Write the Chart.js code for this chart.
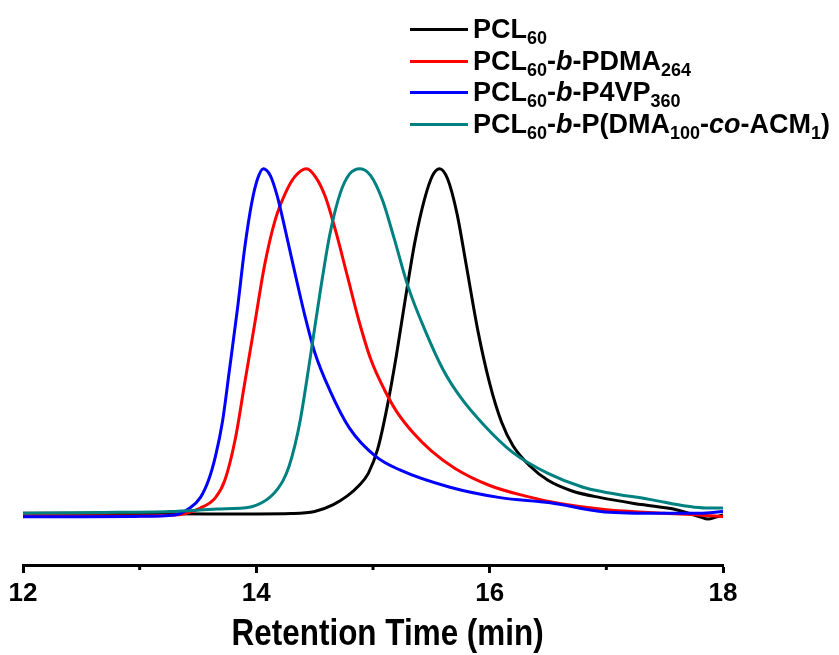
<!DOCTYPE html>
<html>
<head>
<meta charset="utf-8">
<script src="https://cdn.jsdelivr.net/npm/chart.js@4.4.0/dist/chart.umd.min.js"></script>
<style>
  html, body { margin: 0; padding: 0; background: #fff; }
  #wrap { position: relative; width: 839px; height: 655px; overflow: hidden; }
  #gpc { position: absolute; left: 0; top: 0; }
  #legend { position: absolute; left: 410px; top: 14px; font-family: "Liberation Sans", Arial, sans-serif; font-weight: bold; font-size: 27px; color: #000; }
  .row { display: flex; align-items: center; height: 31.5px; white-space: nowrap; }
  .swatch { width: 58px; height: 3px; margin-right: 5px; }
  .row sub { font-size: 18px; vertical-align: -6px; line-height: 0; }
  #xtitle { position: absolute; left: 0; top: 614px; width: 776px; text-align: center; line-height: 37px; }
  #xtitle span { display: inline-block; transform: scaleX(0.85); font-family: "Liberation Sans", Arial, sans-serif; font-weight: bold; font-size: 37px; color: #000; white-space: nowrap; }
</style>
</head>
<body>
<div id="wrap">
  <canvas id="gpc" width="839" height="655"></canvas>
  <div id="legend"></div>
  <div id="xtitle"><span>Retention Time (min)</span></div>
</div>
<script>
// GPC traces: retention time (min) and normalised detector signal
const timePCL = [12.0, 13.0, 13.6, 14.0, 14.3, 14.5, 14.66, 14.78, 14.88, 14.96, 15.04, 15.12, 15.2, 15.28, 15.36, 15.44, 15.51, 15.57, 15.64, 15.72, 15.80, 15.90, 16.0, 16.1, 16.2, 16.35, 16.5, 16.7, 16.95, 17.3, 17.6, 17.8, 17.87, 17.95, 18.0];
const signalPCL = [0.005, 0.004, 0.003, 0.003, 0.004, 0.01, 0.03, 0.055, 0.085, 0.12, 0.19, 0.31, 0.46, 0.63, 0.79, 0.91, 0.98, 1.0, 0.97, 0.87, 0.72, 0.53, 0.38, 0.27, 0.20, 0.14, 0.10, 0.07, 0.05, 0.03, 0.015, -0.005, -0.012, -0.005, 0.0];

const timePDMA = [12.0, 12.66, 13.3, 13.52, 13.65, 13.73, 13.82, 13.90, 13.99, 14.07, 14.16, 14.25, 14.33, 14.43, 14.51, 14.59, 14.68, 14.78, 14.88, 14.98, 15.1, 15.2, 15.35, 15.5, 15.7, 16.0, 16.3, 16.6, 17.0, 17.5, 17.8, 18.0];
const signalPDMA = [0.0, -0.003, 0.0, 0.02, 0.05, 0.10, 0.22, 0.38, 0.56, 0.72, 0.85, 0.93, 0.977, 1.0, 0.975, 0.92, 0.82, 0.69, 0.56, 0.45, 0.36, 0.30, 0.235, 0.185, 0.135, 0.085, 0.055, 0.033, 0.015, 0.005, 0.0, -0.005];

const timeP4VP = [12.0, 12.5, 13.0, 13.3, 13.43, 13.52, 13.59, 13.65, 13.71, 13.77, 13.84, 13.90, 13.96, 14.01, 14.06, 14.12, 14.18, 14.25, 14.33, 14.42, 14.50, 14.63, 14.80, 15.02, 15.23, 15.66, 16.09, 16.52, 16.95, 17.37, 17.80, 18.0];
const signalP4VP = [-0.005, -0.005, -0.004, 0.0, 0.02, 0.05, 0.10, 0.17, 0.27, 0.42, 0.60, 0.77, 0.90, 0.97, 1.0, 0.98, 0.92, 0.82, 0.70, 0.57, 0.47, 0.36, 0.25, 0.17, 0.13, 0.08, 0.05, 0.035, 0.01, 0.005, 0.005, 0.01];

const timeCopolymer = [12.0, 12.66, 13.26, 13.66, 13.95, 14.05, 14.12, 14.18, 14.23, 14.28, 14.33, 14.38, 14.46, 14.55, 14.63, 14.72, 14.80, 14.89, 14.98, 15.08, 15.18, 15.30, 15.45, 15.60, 15.75, 15.95, 16.2, 16.5, 16.8, 17.0, 17.37, 17.7, 17.85, 18.0];
const signalCopolymer = [0.005, 0.007, 0.01, 0.017, 0.023, 0.036, 0.052, 0.074, 0.10, 0.14, 0.20, 0.28, 0.45, 0.65, 0.81, 0.93, 0.985, 1.0, 0.98, 0.91, 0.80, 0.66, 0.53, 0.42, 0.34, 0.26, 0.18, 0.12, 0.08, 0.065, 0.045, 0.025, 0.02, 0.02];

// legend text pieces: [text, style] where style is '', 'sub' or 'i'
const labelPCL = [['PCL', ''], ['60', 'sub']];
const labelPDMA = [['PCL', ''], ['60', 'sub'], ['-', ''], ['b', 'i'], ['-PDMA', ''], ['264', 'sub']];
const labelP4VP = [['PCL', ''], ['60', 'sub'], ['-', ''], ['b', 'i'], ['-P4VP', ''], ['360', 'sub']];
const labelCopolymer = [['PCL', ''], ['60', 'sub'], ['-', ''], ['b', 'i'], ['-P(DMA', ''], ['100', 'sub'], ['-', ''], ['co', 'i'], ['-ACM', ''], ['1', 'sub'], [')', '']];

const xTicksMajor = [12, 14, 16, 18];
const xMin = 12, xMax = 18;

const series = [
  { time: timePCL, signal: signalPCL, label: labelPCL, color: '#000000', order: 3 },
  { time: timePDMA, signal: signalPDMA, label: labelPDMA, color: '#ff0000', order: 2 },
  { time: timeP4VP, signal: signalP4VP, label: labelP4VP, color: '#0000ff', order: 1 },
  { time: timeCopolymer, signal: signalCopolymer, label: labelCopolymer, color: '#008080', order: 0 }
];

const datasets = series.map(s => ({
  label: s.label.map(p => p[0]).join(''),
  data: s.time.map((t, i) => ({ x: t, y: s.signal[i] })),
  borderColor: s.color,
  backgroundColor: s.color,
  borderWidth: 3,
  pointRadius: 0,
  fill: false,
  cubicInterpolationMode: 'monotone',
  order: s.order
}));

// short unlabelled ticks on the odd minutes
const minorTicks = {
  id: 'minorTicks',
  afterDraw(chart) {
    const sx = chart.scales.x;
    const ctx = chart.ctx;
    ctx.save();
    ctx.strokeStyle = '#000';
    ctx.lineWidth = 3;
    for (let v = xMin + 1; v < xMax; v += 2) {
      const px = sx.getPixelForValue(v);
      ctx.beginPath();
      ctx.moveTo(px, sx.top);
      ctx.lineTo(px, sx.top + 5);
      ctx.stroke();
    }
    ctx.restore();
  }
};

new Chart(document.getElementById('gpc'), {
  type: 'line',
  data: { datasets },
  options: {
    responsive: false,
    animation: false,
    events: [],
    layout: { padding: { left: 23, right: 116, top: 134, bottom: 0 } },
    plugins: { legend: { display: false }, tooltip: { enabled: false } },
    scales: {
      x: {
        type: 'linear',
        min: xMin,
        max: xMax,
        afterFit(scale) { scale.height = 90; },
        afterBuildTicks(scale) { scale.ticks = xTicksMajor.map(v => ({ value: v })); },
        border: { display: true, color: '#000', width: 3 },
        grid: { display: true, drawOnChartArea: false, drawTicks: true, tickLength: 8, tickWidth: 3, tickColor: '#000' },
        ticks: {
          color: '#000',
          padding: 5,
          maxRotation: 0,
          font: { family: '"Liberation Sans", Arial, sans-serif', weight: 'bold', size: 26 }
        },
        title: { display: false }
      },
      y: {
        display: false,
        min: -0.1445,
        max: 1.1
      }
    }
  },
  plugins: [minorTicks]
});

// legend with subscripts and italics
const legendEl = document.getElementById('legend');
series.forEach(s => {
  const row = document.createElement('div');
  row.className = 'row';
  const sw = document.createElement('span');
  sw.className = 'swatch';
  sw.style.background = s.color;
  row.appendChild(sw);
  const txt = document.createElement('span');
  s.label.forEach(([t, style]) => {
    let el;
    if (style === 'sub') el = document.createElement('sub');
    else if (style === 'i') el = document.createElement('i');
    else el = document.createElement('span');
    el.textContent = t;
    txt.appendChild(el);
  });
  row.appendChild(txt);
  legendEl.appendChild(row);
});
</script>
</body>
</html>
